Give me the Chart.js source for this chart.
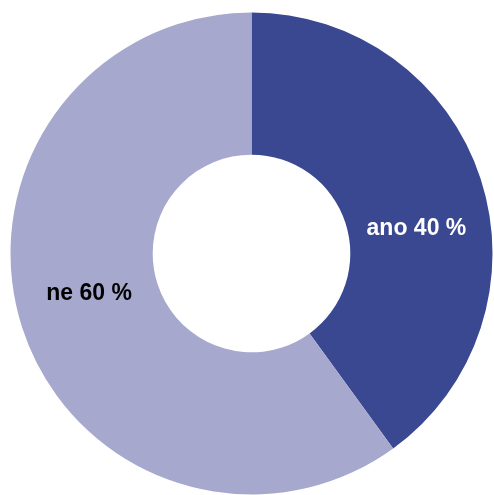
<!DOCTYPE html>
<html>
<head>
<meta charset="utf-8">
<script src="https://cdn.jsdelivr.net/npm/chart.js@4/dist/chart.umd.min.js"></script>
<style>
html,body{margin:0;padding:0;background:#fff;}
#wrap{width:494px;height:495px;position:relative;}
</style>
</head>
<body>
<div id="wrap"><canvas id="c"></canvas></div>
<script>
const categories = ["ano", "ne"];
const values = [40, 60];
const colors = ["#3a4891", "#a6a8ce"];
const labelColors = ["#ffffff", "#000000"];

const labelPlugin = {
  id: 'sliceLabels',
  afterDatasetsDraw(chart) {
    const ctx = chart.ctx;
    const meta = chart.getDatasetMeta(0);
    // angular offsets (radians) relative to slice middle, to mimic reference placement
    const angleShift = [0.16, 0.08];
    meta.data.forEach((arc, i) => {
      const p = arc.getProps(['x','y','startAngle','endAngle','innerRadius','outerRadius'], true);
      const mid = (p.startAngle + p.endAngle) / 2 + angleShift[i];
      const r = (p.innerRadius + p.outerRadius) / 2 - 3;
      const x = p.x + Math.cos(mid) * r;
      const y = p.y + Math.sin(mid) * r;
      ctx.save();
      ctx.font = 'bold 23px "Liberation Sans", Arial, sans-serif';
      ctx.fillStyle = labelColors[i];
      ctx.textAlign = 'center';
      ctx.textBaseline = 'middle';
      ctx.fillText(categories[i] + ' ' + values[i] + ' %', x, y + 1);
      ctx.restore();
    });
  }
};

new Chart(document.getElementById('c'), {
  type: 'doughnut',
  data: {
    labels: categories,
    datasets: [{
      data: values,
      backgroundColor: colors,
      borderWidth: 0,
      hoverOffset: 0
    }]
  },
  options: {
    responsive: true,
    maintainAspectRatio: false,
    animation: false,
    cutout: '41%',
    layout: { padding: { left: 10.5, right: 1.5, top: 12.5, bottom: 0.5 } },
    plugins: {
      legend: { display: false },
      tooltip: { enabled: false }
    }
  },
  plugins: [labelPlugin]
});
</script>
</body>
</html>
